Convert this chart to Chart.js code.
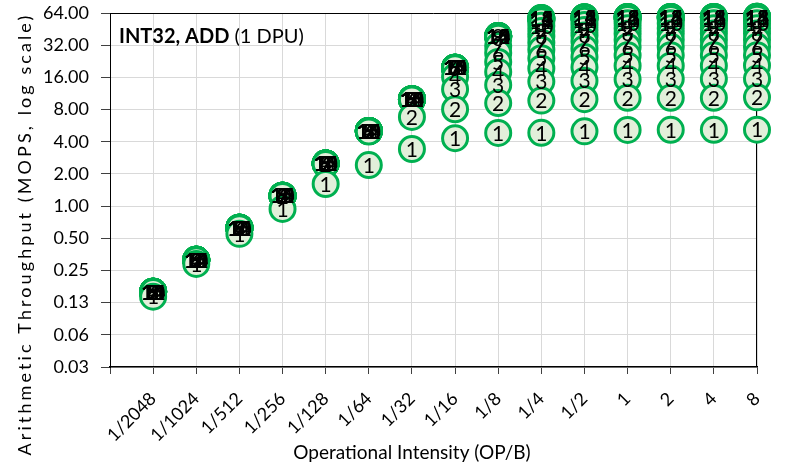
<!DOCTYPE html>
<html>
<head>
<meta charset="utf-8">
<script src="https://cdn.jsdelivr.net/npm/chart.js@4.4.1/dist/chart.umd.min.js"></script>
<style>
  html, body { margin: 0; padding: 0; background: #fff; }
  #wrap { width: 789px; height: 473px; position: relative; }
</style>
</head>
<body>
<div id="wrap"><canvas id="myChart"></canvas></div>
<script>
// x categories (first slot is the empty lead-in category of the axis)
var intensities = ["", "1/2048", "1/1024", "1/512", "1/256", "1/128", "1/64", "1/32",
  "1/16", "1/8", "1/4", "1/2", "1", "2", "4", "8"];

// throughput (MOPS) for 1..16 tasklets at each operational intensity
var oi_1_2048 = [0.142, 0.157, 0.158, 0.158, 0.158, 0.158, 0.158, 0.158, 0.158, 0.158, 0.158, 0.158, 0.158, 0.158, 0.158, 0.158];
var oi_1_1024 = [0.288, 0.312, 0.314, 0.314, 0.314, 0.314, 0.314, 0.314, 0.314, 0.314, 0.314, 0.314, 0.314, 0.314, 0.314, 0.314];
var oi_1_512 = [0.55, 0.622, 0.627, 0.627, 0.627, 0.627, 0.627, 0.627, 0.627, 0.627, 0.627, 0.627, 0.627, 0.627, 0.627, 0.627];
var oi_1_256 = [0.94, 1.24, 1.25, 1.25, 1.25, 1.25, 1.25, 1.25, 1.25, 1.25, 1.25, 1.25, 1.25, 1.25, 1.25, 1.25];
var oi_1_128 = [1.61, 2.48, 2.5, 2.5, 2.5, 2.5, 2.5, 2.5, 2.5, 2.5, 2.5, 2.5, 2.5, 2.5, 2.5, 2.5];
var oi_1_64 = [2.42, 4.98, 5.04, 5.04, 5.04, 5.04, 5.04, 5.04, 5.04, 5.04, 5.04, 5.04, 5.04, 5.04, 5.04, 5.04];
var oi_1_32 = [3.42, 6.82, 9.95, 10.0, 10.0, 10.0, 10.0, 10.0, 10.0, 10.0, 10.0, 10.0, 10.0, 10.0, 10.0, 10.0];
var oi_1_16 = [4.32, 8.05, 12.4, 16.2, 19.5, 19.7, 19.7, 19.7, 19.7, 19.7, 19.7, 19.7, 19.7, 19.7, 19.7, 19.7];
var oi_1_8 = [4.83, 9.2, 13.6, 18.0, 22.3, 27.1, 31.4, 37.5, 38.8, 38.9, 38.9, 38.9, 38.9, 38.9, 38.9, 38.9];
var oi_1_4 = [4.85, 9.7, 14.6, 19.4, 24.2, 29.0, 33.8, 38.6, 43.4, 48.6, 53.5, 56.0, 56.8, 57.2, 57.4, 57.5];
var oi_1_2 = [5.0, 10.0, 14.9, 19.9, 24.8, 29.7, 34.6, 39.5, 44.4, 49.3, 54.2, 57.6, 58.2, 58.4, 58.5, 58.5];
var oi_1 = [5.16, 10.3, 15.4, 20.6, 25.7, 30.8, 35.9, 41.0, 46.1, 51.2, 56.2, 58.4, 58.6, 58.7, 58.7, 58.7];
var oi_2 = [5.17, 10.3, 15.5, 20.6, 25.8, 30.9, 36.0, 41.1, 46.2, 51.3, 56.3, 58.5, 58.7, 58.8, 58.8, 58.8];
var oi_4 = [5.17, 10.3, 15.5, 20.6, 25.8, 30.9, 36.0, 41.1, 46.2, 51.3, 56.3, 58.5, 58.7, 58.8, 58.8, 58.8];
var oi_8 = [5.18, 10.4, 15.5, 20.7, 25.8, 30.9, 36.0, 41.1, 46.2, 51.3, 56.4, 58.6, 58.8, 58.9, 58.9, 58.9];

var columns = [oi_1_2048, oi_1_1024, oi_1_512, oi_1_256, oi_1_128, oi_1_64, oi_1_32,
  oi_1_16, oi_1_8, oi_1_4, oi_1_2, oi_1, oi_2, oi_4, oi_8];
var tasklets = [1, 2, 3, 4, 5, 6, 7, 8, 9, 10, 11, 12, 13, 14, 15, 16];

// y axis (log base 2)
var yTickValues = [0.03125, 0.0625, 0.125, 0.25, 0.5, 1, 2, 4, 8, 16, 32, 64];
var yTickLabels = ["0.03", "0.06", "0.13", "0.25", "0.50", "1.00", "2.00", "4.00", "8.00", "16.00", "32.00", "64.00"];

var FONT = "Lato";
var GREEN = "#00b050";
var FILL = "#e2efda";

var datasets = tasklets.map(function (t, i) {
  return {
    label: t + " tasklets",
    data: [null].concat(columns.map(function (c) { return c[i]; })),
    showLine: false,
    pointRadius: 12.5,
    pointHoverRadius: 12.5,
    pointBorderWidth: 3,
    pointBackgroundColor: FILL,
    pointBorderColor: GREEN,
    clip: false,
  };
});

// frame, labels in the markers and the free text
var extras = {
  id: "extras",
  beforeDatasetsDraw: function (chart) {
    var ctx = chart.ctx, a = chart.chartArea;
    ctx.save();
    ctx.strokeStyle = "#000";
    ctx.lineWidth = 1;
    ctx.beginPath();
    ctx.moveTo(a.left, a.top + 0.5);
    ctx.lineTo(a.right, a.top + 0.5);
    ctx.moveTo(a.right - 0.5, a.top);
    ctx.lineTo(a.right - 0.5, a.bottom);
    ctx.stroke();
    ctx.restore();
  },
  afterDatasetsDraw: function (chart) {
    var ctx = chart.ctx;
    ctx.save();
    ctx.fillStyle = "#000";
    ctx.font = "21px " + FONT;
    ctx.textAlign = "center";
    ctx.textBaseline = "middle";
    chart.data.datasets.forEach(function (ds, i) {
      chart.getDatasetMeta(i).data.forEach(function (pt, j) {
        if (ds.data[j] == null) return;
        ctx.fillText(String(tasklets[i]), pt.x, pt.y + 1);
      });
    });
    ctx.restore();
  },
  afterDraw: function (chart) {
    var ctx = chart.ctx, a = chart.chartArea;
    ctx.save();
    ctx.fillStyle = "#000";
    ctx.textBaseline = "middle";
    // panel note
    ctx.textAlign = "left";
    ctx.font = "bold 20px " + FONT;
    var bold = "INT32, ADD";
    ctx.fillText(bold, a.left + 9, 37);
    var w = ctx.measureText(bold).width;
    ctx.font = "20px " + FONT;
    ctx.fillText(" (1 DPU)", a.left + 9 + w, 37);
    // x title
    ctx.textAlign = "center";
    ctx.font = "19px " + FONT;
    ctx.fillText("Operational Intensity (OP/B)", 412, 453);
    // y title, spread out like the original
    ctx.font = "18px " + FONT;
    var yt = "Arithmetic Throughput (MOPS, log scale)";
    var natural = ctx.measureText(yt).width;
    ctx.letterSpacing = ((440 - natural) / (yt.length - 1)).toFixed(2) + "px";
    ctx.translate(25, 234);
    ctx.rotate(-Math.PI / 2);
    ctx.fillText(yt, 0, 0);
    ctx.restore();
  },
};

var ctx = document.getElementById("myChart");
var myChart = new Chart(ctx, {
  type: "line",
  data: {
    labels: intensities,
    datasets: datasets,
  },
  options: {
    responsive: true,
    maintainAspectRatio: false,
    animation: false,
    layout: { autoPadding: false, padding: { top: 13, right: 32, left: 0, bottom: 0 } },
    plugins: {
      legend: { display: false },
      tooltip: { enabled: false },
    },
    scales: {
      x: {
        type: "category",
        offset: false,
        afterFit: function (scale) {
          scale.height = 106;
          scale.paddingLeft = 0;
          scale.paddingRight = 0;
        },
        grid: { color: "#d9d9d9", lineWidth: 1, tickColor: "#404040", tickLength: 7 },
        border: { color: "#000", width: 1.5 },
        ticks: {
          autoSkip: false,
          minRotation: 45,
          maxRotation: 45,
          padding: 14,
          color: "#000",
          font: { family: FONT, size: 18 },
        },
      },
      y: {
        type: "logarithmic",
        min: 0.03125,
        max: 64,
        afterFit: function (scale) {
          scale.width = 110;
          scale.paddingTop = 0;
          scale.paddingBottom = 0;
        },
        afterBuildTicks: function (scale) {
          scale.ticks = yTickValues.map(function (v) { return { value: v }; });
        },
        grid: { color: "#d9d9d9", lineWidth: 1, tickColor: "#404040", tickLength: 9 },
        border: { color: "#000", width: 1 },
        ticks: {
          padding: 12,
          color: "#000",
          font: { family: FONT, size: 18 },
          callback: function (value, index) { return yTickLabels[index]; },
        },
      },
    },
  },
  plugins: [extras],
});
</script>
</body>
</html>
